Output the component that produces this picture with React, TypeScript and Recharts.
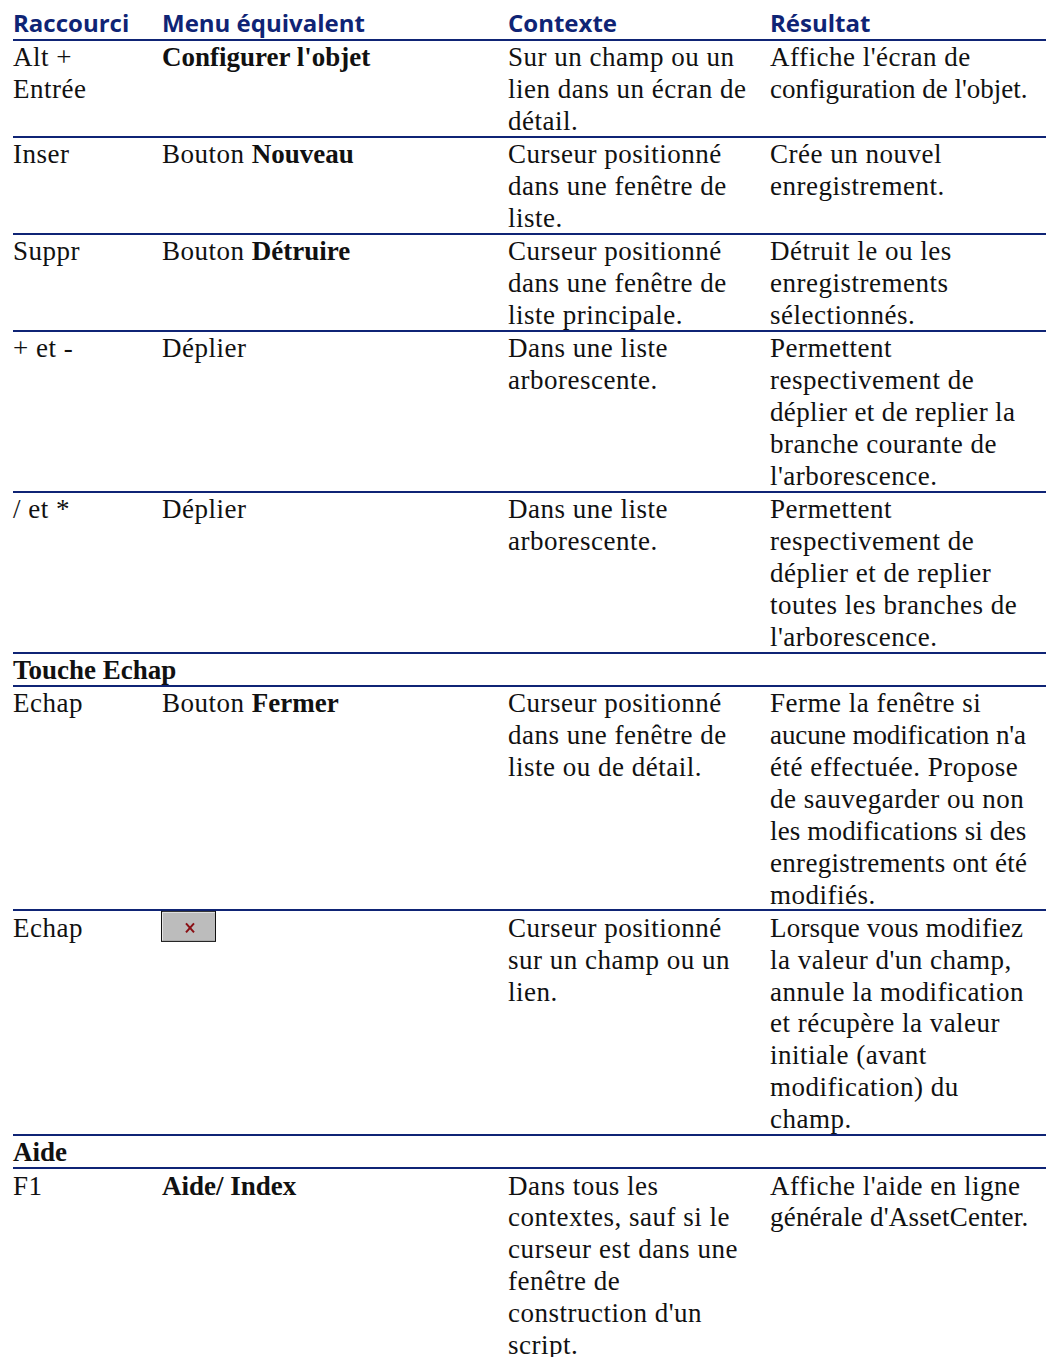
import { ScatterChart, Scatter, XAxis, YAxis, ReferenceLine } from 'recharts';

const headers = ['Raccourci', 'Menu équivalent', 'Contexte', 'Résultat'];

// one entry per table row, one string per printed line; **x** marks bold
const shortcuts = [['Alt +', 'Entrée'], ['Inser'], ['Suppr'], ['+ et -'], ['/ et *'], ['Echap'], ['Echap'], ['F1']];
const menus = [
  ["**Configurer l'objet**"],
  ['Bouton **Nouveau**'],
  ['Bouton **Détruire**'],
  ['Déplier'],
  ['Déplier'],
  ['Bouton **Fermer**'],
  [],
  ['**Aide/ Index**'],
];
const contexts = [
  ['Sur un champ ou un', 'lien dans un écran de', 'détail.'],
  ['Curseur positionné', 'dans une fenêtre de', 'liste.'],
  ['Curseur positionné', 'dans une fenêtre de', 'liste principale.'],
  ['Dans une liste', 'arborescente.'],
  ['Dans une liste', 'arborescente.'],
  ['Curseur positionné', 'dans une fenêtre de', 'liste ou de détail.'],
  ['Curseur positionné', 'sur un champ ou un', 'lien.'],
  ['Dans tous les', 'contextes, sauf si le', 'curseur est dans une', 'fenêtre de', "construction d'un", 'script.'],
];
const results = [
  ["Affiche l'écran de", "configuration de l'objet."],
  ['Crée un nouvel', 'enregistrement.'],
  ['Détruit le ou les', 'enregistrements', 'sélectionnés.'],
  ['Permettent', 'respectivement de', 'déplier et de replier la', 'branche courante de', "l'arborescence."],
  ['Permettent', 'respectivement de', 'déplier et de replier', 'toutes les branches de', "l'arborescence."],
  ['Ferme la fenêtre si', "aucune modification n'a", 'été effectuée. Propose', 'de sauvegarder ou non', 'les modifications si des', 'enregistrements ont été', 'modifiés.'],
  ['Lorsque vous modifiez', "la valeur d'un champ,", 'annule la modification', 'et récupère la valeur', 'initiale (avant', 'modification) du', 'champ.'],
  ["Affiche l'aide en ligne", "générale d'AssetCenter."],
];
const sectionLabels = ['Touche Echap', 'Aide'];
const sectionBeforeRow = [5, 7];
const buttonRow = 6;

const W = 1046;
const H = 1357;
const colX = [13, 162, 508, 770];
const pitch = 31.9;
const ruleLeft = 13;
const navy = '#0f2475';
const bodyFont = "'Liberation Serif', serif";
const headFont = "'Open Sans', sans-serif";
const bodySpacing = 0.5;

// the original squeezes its longest lines to fit the column
const tightSpacing: Record<string, number> = {
  "aucune modification n'a": -0.1,
  "configuration de l'objet.": 0,
  "générale d'AssetCenter.": 0.2,
  'les modifications si des': 0.15,
  'enregistrements ont été': 0.3,
  'Lorsque vous modifiez': 0.2,
  'déplier et de replier la': 0.35,
  'curseur est dans une': 0.6,
};

type Cell = { x: number; y: number; text: string; head?: boolean; bold?: boolean };

const textCells: Cell[] = [];
const rules: number[] = [40];
const buttons: { x: number; y: number }[] = [];

headers.forEach((h, c) => textCells.push({ x: colX[c], y: 32, text: h, head: true }));

let top = 40;
shortcuts.forEach((_, r) => {
  const s = sectionBeforeRow.indexOf(r);
  if (s >= 0) {
    textCells.push({ x: colX[0], y: top + 26.3, text: sectionLabels[s], bold: true });
    top += pitch + 1.3;
    rules.push(Math.round(top));
  }
  const cols = [shortcuts[r], menus[r], contexts[r], results[r]];
  cols.forEach((lines, c) => {
    lines.forEach((text, i) => textCells.push({ x: colX[c], y: top + 26.3 + i * pitch, text }));
  });
  if (r === buttonRow) buttons.push({ x: colX[1], y: top });
  top += Math.max(...cols.map((l) => l.length)) * pitch + 1.3;
  if (r < shortcuts.length - 1) rules.push(Math.round(top));
});

const TextShape = (props: any) => {
  const { cx, cy, payload } = props;
  const parts = String(payload.text).split('**');
  if (payload.head) {
    return (
      <text x={cx} y={cy} fontFamily={headFont} fontWeight={700} fontSize={24} fill={navy}>
        {payload.text}
      </text>
    );
  }
  const spacing = tightSpacing[payload.text] ?? bodySpacing;
  return (
    <text x={cx} y={cy} fontFamily={bodyFont} fontSize={27} fill="#111" fontWeight={payload.bold ? 700 : 400}>
      {parts.map((p, i) => (
        <tspan key={i} fontWeight={i % 2 === 1 ? 700 : undefined} letterSpacing={i % 2 === 1 || payload.bold ? 0 : spacing}>
          {p}
        </tspan>
      ))}
    </text>
  );
};

const ButtonShape = (props: any) => {
  const { cx, cy } = props;
  return (
    <g>
      <rect x={cx - 0.5} y={cy + 1} width={54} height={30} fill="#bcbcbc" stroke="#111" strokeWidth={1} />
      <path d={`M${cx + 0.5} ${cy + 30}V${cy + 2}H${cx + 53}`} fill="none" stroke="#e4e4e4" />
      <path d={`M${cx + 24} ${cy + 13}l8 9m0 -9l-8 9`} fill="none" stroke="#8a0f14" strokeWidth={2} />
    </g>
  );
};

export default function App() {
  return (
    <div style={{ position: 'absolute', left: 0, top: 0, width: W, height: H, background: '#fff' }}>
      <ScatterChart width={W} height={H} margin={{ top: 0, right: 0, bottom: 0, left: 0 }}>
        <XAxis type="number" dataKey="x" domain={[0, W]} hide />
        <YAxis type="number" dataKey="y" domain={[0, H]} reversed hide />
        {rules.map((y) => (
          <ReferenceLine
            key={y}
            segment={[
              { x: ruleLeft, y },
              { x: W, y },
            ]}
            stroke={navy}
            strokeWidth={2}
          />
        ))}
        <Scatter data={textCells} shape={TextShape} isAnimationActive={false} />
        <Scatter data={buttons} shape={ButtonShape} isAnimationActive={false} />
      </ScatterChart>
    </div>
  );
}
